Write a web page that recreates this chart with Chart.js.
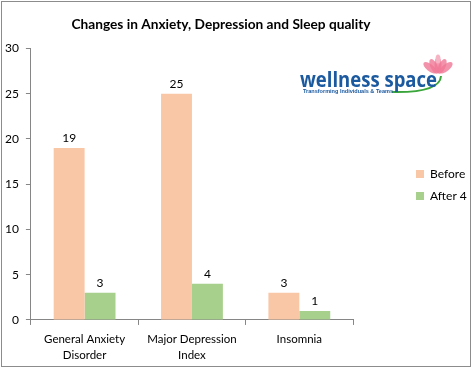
<!DOCTYPE html>
<html>
<head>
<meta charset="utf-8">
<script src="https://cdn.jsdelivr.net/npm/chart.js@4.4.0/dist/chart.umd.min.js"></script>
<style>
  html, body { margin: 0; padding: 0; background: #fff; }
  #wrap { width: 474px; height: 368px; position: relative; }
</style>
</head>
<body>
<div id="wrap"><canvas id="chart" width="474" height="368"></canvas></div>
<script>
// ── Data ──────────────────────────────────────────────────────────────────
const categories = [["General Anxiety", "Disorder"], ["Major Depression", "Index"], ["Insomnia"]];
const beforeVals = [19, 25, 3];
const afterVals  = [3, 4, 1];
const seriesNames = ["Before", "After 4"];
const yTicks = { min: 0, max: 30, step: 5 };

const COLORS = { before: "#F9C7A6", after: "#A8D08D", axis: "#868686", text: "#000000" };
const FONT = "Lato, 'Liberation Sans', sans-serif";

// ── Plugins ───────────────────────────────────────────────────────────────
const frame = {
  id: "frame",
  afterDraw(chart) {
    const c = chart.ctx;
    c.save();
    c.strokeStyle = "#8c8c8c";
    c.lineWidth = 1;
    c.strokeRect(1.5, 1.5, chart.width - 5, chart.height - 3);
    c.restore();
  },
};

// legend: fixed column width, items pushed to the right like the original
const legendPlace = {
  id: "legendPlace",
  afterInit(chart) {
    const lg = chart.legend;
    const fit = lg.fit.bind(lg);
    lg.fit = function () { fit(); this.width = 91; };
    const draw = lg.draw.bind(lg);
    lg.draw = function () {
      const c = this.ctx;
      c.save();
      c.translate(416 - (this.left + 10), -3);
      draw();
      c.restore();
    };
  },
};

// value labels above each bar
const barLabels = {
  id: "barLabels",
  afterDatasetsDraw(chart) {
    const c = chart.ctx;
    c.save();
    c.font = "12px " + FONT;
    c.fillStyle = COLORS.text;
    c.textAlign = "center";
    c.textBaseline = "bottom";
    chart.data.datasets.forEach((ds, i) => {
      chart.getDatasetMeta(i).data.forEach((bar, j) => {
        c.fillText(ds.data[j], bar.x, bar.y - 4);
      });
    });
    c.restore();
  },
};

// company logo, top right
const logo = {
  id: "logo",
  afterDraw(chart) {
    const c = chart.ctx;
    c.save();
    // lotus
    const cx = 438, cy = 72;
    c.fillStyle = "rgba(240,120,150,0.8)";
    [[-8, 0.9], [-4, 0.45], [0, 0], [4, -0.45], [8, -0.9]].forEach(([dx, rot]) => {
      c.beginPath();
      c.ellipse(cx + dx, cy - 7 + Math.abs(dx) * 0.35, 3.5, 8, -rot, 0, Math.PI * 2);
      c.fill();
    });
    c.fillStyle = "#f6b3c4";
    c.beginPath();
    c.ellipse(cx, cy - 13, 2.5, 4.5, 0, 0, Math.PI * 2);
    c.fill();
    // green swoosh
    c.strokeStyle = "#3aa53a";
    c.lineWidth = 2;
    c.beginPath();
    c.moveTo(392, 92);
    c.quadraticCurveTo(440, 93, 441, 76);
    c.stroke();
    // text
    c.fillStyle = "#1c5aa0";
    c.font = "bold 21px 'Open Sans', 'Liberation Sans', sans-serif";
    c.textBaseline = "alphabetic";
    const w = c.measureText("wellness space").width;
    c.save();
    c.translate(300, 87);
    c.scale(137 / w, 1);
    c.fillText("wellness space", 0, 0);
    c.restore();
    c.font = "bold 6px 'Liberation Sans', sans-serif";
    const w2 = c.measureText("Transforming Individuals & Teams").width;
    c.translate(303, 93);
    c.scale(90 / w2, 1);
    c.fillText("Transforming Individuals & Teams", 0, 0);
    c.restore();
  },
};

// ── Chart ─────────────────────────────────────────────────────────────────
new Chart(document.getElementById("chart"), {
  type: "bar",
  data: {
    labels: categories,
    datasets: [
      { label: seriesNames[0], data: beforeVals, backgroundColor: COLORS.before },
      { label: seriesNames[1], data: afterVals,  backgroundColor: COLORS.after },
    ],
  },
  options: {
    responsive: false,
    animation: false,
    categoryPercentage: 0.576,
    barPercentage: 1.0,
    layout: { padding: { left: -2, right: 30, top: 6, bottom: -2 } },
    plugins: {
      title: {
        display: true,
        text: "Changes in Anxiety, Depression and Sleep quality",
        color: COLORS.text,
        font: { family: FONT, size: 13.7, weight: "bold" },
        padding: { top: 10, bottom: 16 },
      },
      legend: {
        position: "right",
        labels: {
          color: COLORS.text,
          font: { family: FONT, size: 12 },
          boxWidth: 8, boxHeight: 8,
          padding: 10,
        },
      },
      tooltip: { enabled: false },
    },
    scales: {
      x: {
        grid: { offset: true, drawOnChartArea: false, drawTicks: true, tickLength: 5, color: COLORS.axis },
        border: { color: COLORS.axis },
        ticks: { color: COLORS.text, font: { family: FONT, size: 11.5, lineHeight: 1.35 }, maxRotation: 0, padding: 7 },
      },
      y: {
        min: yTicks.min, max: yTicks.max,
        grid: { drawOnChartArea: false, drawTicks: true, tickLength: 5, color: COLORS.axis },
        border: { color: COLORS.axis },
        ticks: { stepSize: yTicks.step, color: COLORS.text, font: { family: FONT, size: 12 }, padding: 7 },
      },
    },
  },
  plugins: [legendPlace, barLabels, logo, frame],
});
</script>
</body>
</html>
